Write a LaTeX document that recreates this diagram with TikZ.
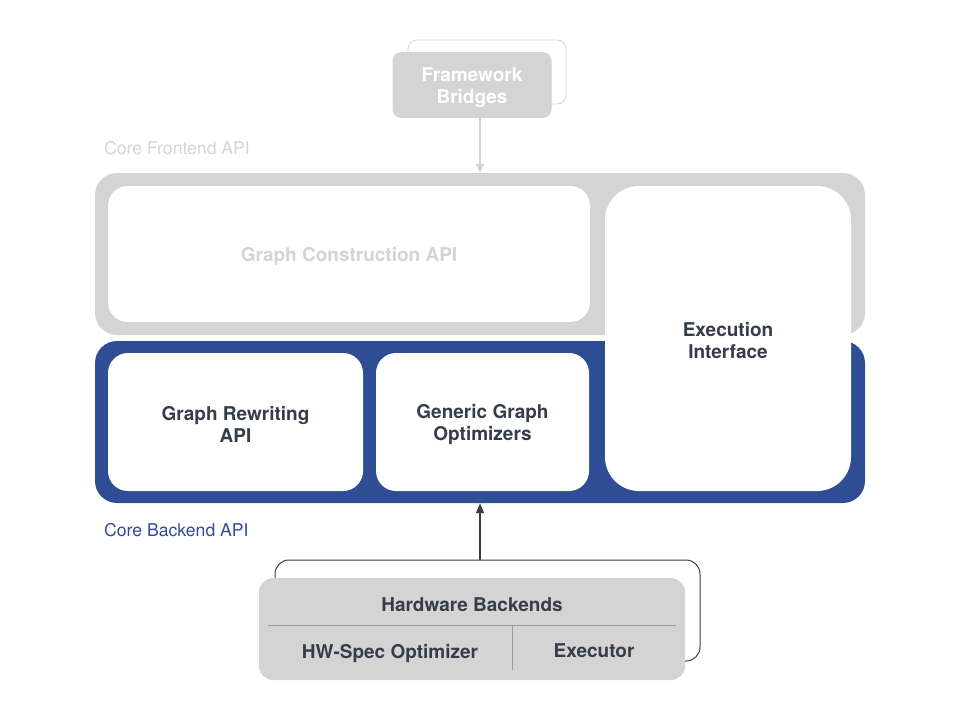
\documentclass[tikz,border=0pt]{standalone}
\usepackage{fontspec}
\setmainfont{TeX Gyre Heros}
\usetikzlibrary{arrows.meta}
\definecolor{lgray}{HTML}{D4D4D4}
\definecolor{bblue}{HTML}{2E4D94}
\definecolor{dtext}{HTML}{363D4A}
\definecolor{sepgray}{HTML}{9A9A9A}
\tikzset{
  frame/.style={rounded corners=22pt, inner sep=0pt},
  inbox/.style={fill=white, rounded corners=20pt, inner sep=0pt},
  intext/.style={align=center, inner sep=0pt, yshift=-2.5pt,
    font=\bfseries\fontsize{19}{22}\selectfont, text=dtext},
  lbl/.style={font=\fontsize{17.6}{21}\selectfont, anchor=west, inner sep=0pt},
  btext/.style={font=\bfseries\fontsize{19}{22}\selectfont, text=dtext, inner sep=0pt, text depth=0pt},
}
\begin{document}
\begin{tikzpicture}[x=1pt,y=-1pt]
\useasboundingbox (0,0) rectangle (960,720);
% frames
\node[frame, fill=lgray, minimum width=770pt, minimum height=162pt] (front) at (480,254) {};
\node[frame, fill=bblue, minimum width=770pt, minimum height=162pt] (back) at (480,422) {};
% inner boxes
\node[inbox, minimum width=482pt, minimum height=136pt] (gc) at (349,254) {};
\node[intext, text=lgray] (gct) at (gc) {Graph Construction API};
\node[inbox, minimum width=255pt, minimum height=138pt] (gr) at (235.5,422) {};
\node[intext] (grt) at (gr) {Graph Rewriting\\API};
\node[inbox, minimum width=213pt, minimum height=138pt] (go) at (482.5,422) {};
\node[intext] (got) at (go) {Generic Graph\\Optimizers};
\node[inbox, rounded corners=34pt, minimum width=246pt, minimum height=305pt] (ei) at (728,338.5) {};
\node[intext] (eit) at (ei) {Execution\\Interface};
% labels
\node[lbl, text=lgray] (fl) at (104,148) {Core Frontend API};
\node[lbl, text=bblue] (bl) at (104,530) {Core Backend API};
% framework bridges
\node[draw=lgray, line width=0.8pt, rounded corners=9pt, minimum width=158pt, minimum height=64pt, inner sep=0pt] (fbb) at (487,72) {};
\node[fill=lgray, rounded corners=9pt, minimum width=159pt, minimum height=66pt, inner sep=0pt] (fb) at (472,85) {};
\node[intext, text=white, yshift=-0.5pt] (fbt) at (fb) {Framework\\Bridges};
\draw[lgray, line width=1.5pt, -{Triangle[length=9pt,width=8pt]}] (fb.south -| front.north) -- (front.north);
% hardware backends
\node[draw=dtext, line width=1pt, rounded corners=14pt, minimum width=425pt, minimum height=101pt, inner sep=0pt] (hwb) at (487.5,610.5) {};
\node[fill=lgray, rounded corners=14pt, minimum width=426pt, minimum height=102pt, inner sep=0pt] (hw) at (472,629) {};
\coordinate (hl) at (268,625.5);
\coordinate (hr) at (676,625.5);
\coordinate (vt) at (512,625.5);
\coordinate (vb) at (512,670);
\draw[sepgray, line width=0.7pt] (hl) -- (hr);
\draw[sepgray, line width=0.7pt] (vt) -- (vb);
\node[btext] (hwt) at (472,605) {Hardware Backends};
\node[btext] (hso) at (390,651) {HW-Spec Optimizer};
\node[btext] (exe) at (594,651) {Executor};
\draw[dtext, line width=1.5pt, -{Triangle[length=10pt,width=8pt]}] (hwb.north -| back.south) -- (back.south);
\end{tikzpicture}
\end{document}
